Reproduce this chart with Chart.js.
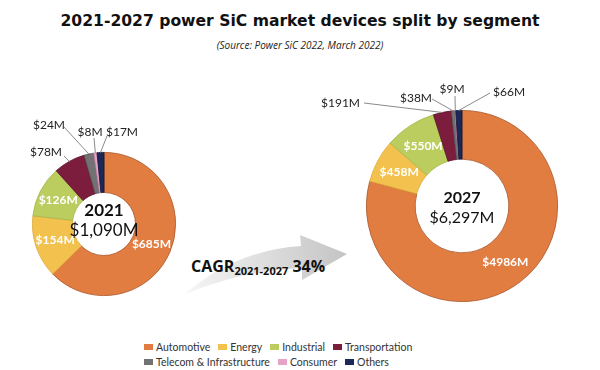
<!DOCTYPE html>
<html><head><meta charset="utf-8">
<script src="https://cdn.jsdelivr.net/npm/chart.js@4/dist/chart.umd.min.js"></script>
<style>
body{margin:0;width:600px;height:370px;background:#fff;position:relative;overflow:hidden;font-family:Lato,sans-serif}
#title{position:absolute;left:0;width:600px;top:12px;text-align:center;font:bold 15.6px "DejaVu Sans",sans-serif;color:#111}
#sub{position:absolute;left:0;width:600px;top:38px;text-align:center;font:italic 10px "Open Sans",sans-serif;color:#222}
canvas{position:absolute}
#c1{left:0;top:110px}
#c2{left:300px;top:60px}
#arrow{position:absolute;left:0;top:0}
#cagr{position:absolute;left:191px;top:255px;font:bold 16px "Open Sans",sans-serif;color:#111;white-space:nowrap}
#cagr sub{font-size:11px;vertical-align:-3px}
.lrow{position:absolute;left:144px;font:10.5px Lato,sans-serif;color:#333;white-space:nowrap;display:flex}
.li{display:flex;align-items:center;margin-right:8px}
.sw{width:9px;height:6px;margin-right:3px;display:inline-block}
</style></head><body>
<div id="title">2021-2027 power SiC market devices split by segment</div>
<div id="sub">(Source: Power SiC 2022, March 2022)</div>
<svg id="arrow" width="600" height="370">
<defs><linearGradient id="g" x1="0" x2="1" y1="0" y2="0">
<stop offset="0" stop-color="#f6f6f6"/><stop offset="1" stop-color="#c4c4c4"/></linearGradient></defs>
<path d="M185 294 Q245 270 302 268 L302 280 L347 254 L300 235 L301 246 Q236 250 185 294 Z" fill="url(#g)"/>
</svg>
<div id="cagr">CAGR<sub>2021-2027</sub> 34%</div>
<canvas id="c1" width="200" height="200"></canvas>
<canvas id="c2" width="300" height="260"></canvas>
<div class="lrow" id="leg1" style="top:341px"></div>
<div class="lrow" id="leg2" style="top:356px"></div>
<script>
const segments = ["Automotive","Energy","Industrial","Transportation","Telecom & Infrastructure","Consumer","Others"];
const values2021 = [685,154,126,78,24,8,17];
const values2027 = [4986,458,550,191,38,9,66];
const labels2021 = ["$685M","$154M","$126M","$78M","$24M","$8M","$17M"];
const labels2027 = ["$4986M","$458M","$550M","$191M","$38M","$9M","$66M"];
const centerTitles = ["2021","2027"];
const centerTotals = ["$1,090M","$6,297M"];

const colors = ["#E27D42","#F2C14E","#BACD5E","#7C1D3E","#727275","#E7A2C6","#1B2858"];
const borders = ["#a8552a","#e0a93a","#a5b84c","#55102a","#505052","#c07aa0","#0e1636"];

// outside label placement (page offsets relative to donut centre) for small slices
const outside1 = {3:{dx:-42,dy:-72,align:"right",lx:-40,ly:-68},4:{dx:-55,dy:-99,align:"center",lx:-40,ly:-97},5:{dx:-14,dy:-92,align:"center",lx:-10,ly:-86},6:{dx:18,dy:-92,align:"center",lx:3,ly:-88}};
const outside2 = {3:{dx:-102,dy:-103,align:"right",lx:-98,ly:-103},4:{dx:-46,dy:-108,align:"center",lx:-30,ly:-107},5:{dx:-10,dy:-117,align:"center",lx:-7,ly:-110},6:{dx:31,dy:-114,align:"left",lx:28,ly:-113}};

function labelPlugin(lbls, outside, idx, fs, tOff){
  return {id:"lbl"+idx, afterDatasetsDraw(chart){
    const ctx = chart.ctx; const meta = chart.getDatasetMeta(0);
    const a0 = meta.data[0]; const cx=a0.x, cy=a0.y;
    ctx.save();
    meta.data.forEach((arc,i)=>{
      if(outside[i]){
        const o = outside[i];
        const mid = (arc.startAngle+arc.endAngle)/2;
        const ex = cx + Math.cos(mid)*arc.outerRadius, ey = cy + Math.sin(mid)*arc.outerRadius;
        ctx.strokeStyle="#8a8a8a"; ctx.lineWidth=1;
        ctx.beginPath(); ctx.moveTo(cx+o.lx, cy+o.ly); ctx.lineTo(ex,ey); ctx.stroke();
        ctx.fillStyle="#222"; ctx.font="12px Lato"; ctx.textAlign=o.align; ctx.textBaseline="middle";
        ctx.fillText(lbls[i], cx+o.dx, cy+o.dy);
      } else {
        const p = arc.tooltipPosition();
        ctx.fillStyle="#fff"; ctx.font="bold 12px Lato"; ctx.textAlign="center"; ctx.textBaseline="middle";
        ctx.fillText(lbls[i], p.x, p.y);
      }
    });
    ctx.fillStyle="#111"; ctx.textAlign="center"; ctx.textBaseline="middle";
    ctx.font="bold "+fs+"px Lato"; ctx.fillText(centerTitles[idx], cx, cy+tOff[0]);
    ctx.font=fs+"px Lato"; ctx.fillText(centerTotals[idx], cx, cy+tOff[1]);
    ctx.restore();
  }};
}

function make(id, vals, lbls, outside, idx, pad, cut, fs, tOff){
  new Chart(document.getElementById(id), {
    type:"doughnut",
    data:{labels:segments, datasets:[{data:vals, backgroundColor:colors, borderColor:borders, borderWidth:0.8}]},
    options:{responsive:false, animation:false, cutout:cut, layout:{padding:pad},
      plugins:{legend:{display:false}, tooltip:{enabled:false}}},
    plugins:[labelPlugin(lbls, outside, idx, fs, tOff)]
  });
}
make("c1", values2021, labels2021, outside1, 0, {left:32,right:24,top:42,bottom:14}, "44%", 17, [-13,7]);
make("c2", values2027, labels2027, outside2, 1, {left:66,right:42,top:50,bottom:18}, "49%", 16, [-8,12]);

const rows = [[0,1,2,3],[4,5,6]];
rows.forEach((r,ri)=>{
  const el = document.getElementById(ri?"leg2":"leg1");
  r.forEach(i=>{
    const d=document.createElement("span"); d.className="li";
    d.innerHTML='<span class="sw" style="background:'+colors[i]+'"></span>'+segments[i].replace("&","&amp;");
    el.appendChild(d);
  });
});
</script>
</body></html>
